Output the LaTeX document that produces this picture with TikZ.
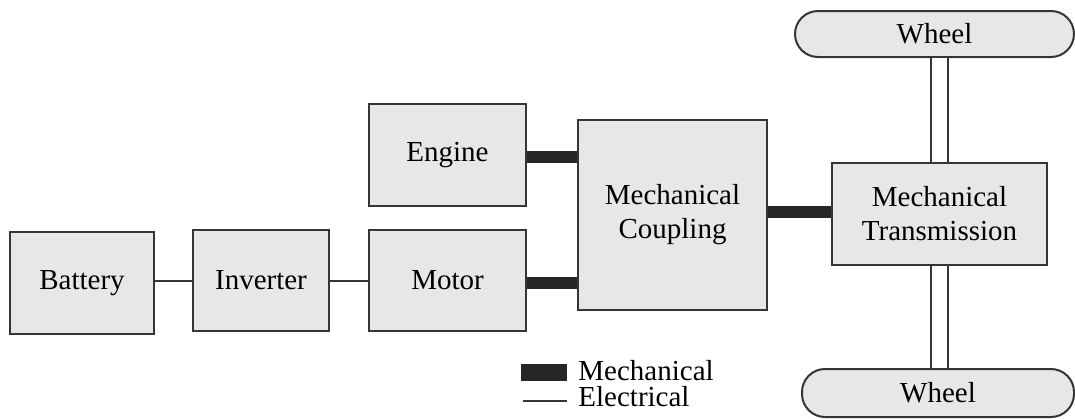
\documentclass[tikz,border=0pt]{standalone}
\usepackage{fontspec}
\setmainfont{Liberation Serif}
\usetikzlibrary{calc}
\definecolor{boxgray}{HTML}{E6E7E9}
\definecolor{edgegray}{HTML}{353535}

\begin{document}
\begin{tikzpicture}[
    x=0.5pt, y=-0.5pt,
    blk/.style={draw=edgegray, fill=boxgray, line width=1pt, inner sep=0pt, align=center, font=\fontsize{14.5}{17}\selectfont},
    wheel/.style={blk, rounded corners=11.5pt},
    elec/.style={draw=edgegray, line width=1pt},
    mech/.style={draw=black!85, line width=6pt},
    shaft/.style={draw=edgegray, line width=0.9pt, double=white, double distance=7.6pt},
    legtext/.style={anchor=base west, inner sep=0pt, text height=7pt, text depth=0pt, font=\fontsize{14.5}{17}\selectfont}
]
\useasboundingbox (0,0) rectangle (1075,418);

\node[blk, minimum width=72pt, minimum height=51pt] (battery) at (82,283) {Battery};
\node[blk, minimum width=68pt, minimum height=50.5pt] (inverter) at (261,280.5) {Inverter};
\node[blk, minimum width=78.5pt, minimum height=50.5pt] (motor) at (447.5,280.5) {Motor};
\node[blk, minimum width=78.5pt, minimum height=51pt] (engine) at (447.5,155) {Engine};
\node[blk, minimum width=94.5pt, minimum height=95pt] (coupling) at (672.5,215) {Mechanical\\Coupling};
\node[blk, minimum width=107.5pt, minimum height=51pt] (trans) at (939.5,214) {Mechanical\\Transmission};
\node[wheel, minimum width=139.5pt, minimum height=23pt] (wheeltop) at (934.5,34) {Wheel};
\node[wheel, minimum width=136pt, minimum height=24pt] (wheelbot) at (938,393) {Wheel};

% electrical links
\draw[elec] (inverter.west) -- (inverter.west -| battery.east);
\draw[elec] (motor.west) -- (motor.west -| inverter.east);

% mechanical links
\draw[mech] ([yshift=-0.75pt]engine.east) -- ([yshift=-0.75pt]engine.east -| coupling.west);
\draw[mech] ([yshift=-1.25pt]motor.east) -- ([yshift=-1.25pt]motor.east -| coupling.west);
\draw[mech] ([yshift=1pt]trans.west -| coupling.east) -- ([yshift=1pt]trans.west);

% shafts to the wheels
\draw[shaft] (trans.north) -- (trans.north |- wheeltop.south);
\draw[shaft] (trans.south) -- (trans.south |- wheelbot.north);

% legend
\fill[black!85] (521,364) rectangle (567,381);
\draw[elec] (523,401) -- (567,401);
\node[legtext] (legmech) at (578,380) {Mechanical};
\node[legtext] (legelec) at (578,406) {Electrical};
\end{tikzpicture}
\end{document}
